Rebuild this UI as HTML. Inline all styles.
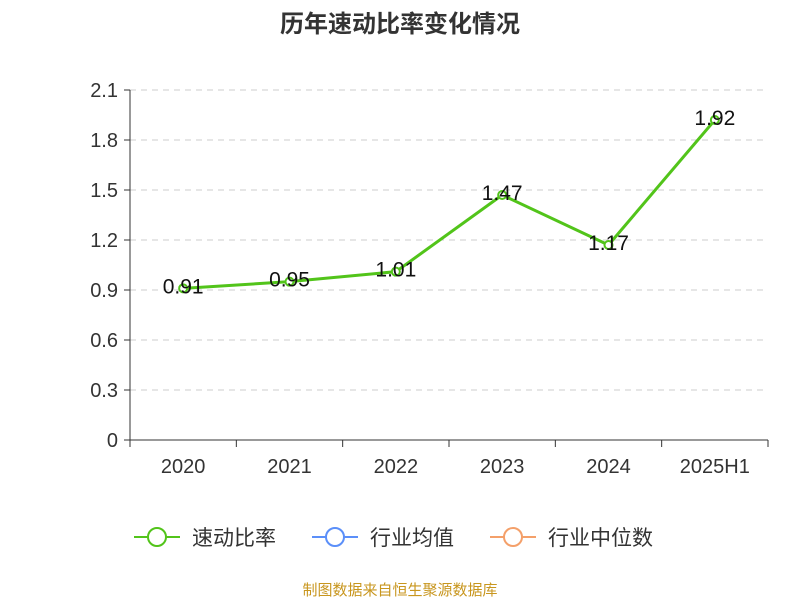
<!DOCTYPE html>
<html><head><meta charset="utf-8"><style>
body{margin:0;background:#fff;}
svg text{font-family:"Liberation Sans","Noto Sans CJK SC",sans-serif;}
</style></head><body>
<svg width="800" height="600" xmlns="http://www.w3.org/2000/svg">
<text x="400" y="32" text-anchor="middle" font-size="24" font-weight="bold" fill="#333">历年速动比率变化情况</text>
<g id="grid"></g><g id="axes"></g><g id="series"></g>
<g>
<g><line x1="134" y1="537" x2="180" y2="537" stroke="#52c41a" stroke-width="2"/><circle cx="157" cy="537" r="9" fill="#fff" stroke="#52c41a" stroke-width="2"/><text x="192" y="545" font-size="21" fill="#333">速动比率</text></g>
<g><line x1="312" y1="537" x2="358" y2="537" stroke="#5b8ff9" stroke-width="2"/><circle cx="335" cy="537" r="9" fill="#fff" stroke="#5b8ff9" stroke-width="2"/><text x="370" y="545" font-size="21" fill="#333">行业均值</text></g>
<g><line x1="490" y1="537" x2="536" y2="537" stroke="#f4a06a" stroke-width="2"/><circle cx="513" cy="537" r="9" fill="#fff" stroke="#f4a06a" stroke-width="2"/><text x="548" y="545" font-size="21" fill="#333">行业中位数</text></g>
</g>
<text x="400" y="595" text-anchor="middle" font-size="15" fill="#c8961e">制图数据来自恒生聚源数据库</text>
</svg>
<script>
const categories=["2020","2021","2022","2023","2024","2025H1"];
const values=[0.91,0.95,1.01,1.47,1.17,1.92];
const yTicks=[0,0.3,0.6,0.9,1.2,1.5,1.8,2.1];
const ns="http://www.w3.org/2000/svg";
const L=130,R=768,T=90,B=440,yMax=2.1;
const bw=(R-L)/categories.length;
const xs=i=>L+bw*(i+0.5);
const ys=v=>B-(v/yMax)*(B-T);
function mk(tag,attrs,parent,txt){const e=document.createElementNS(ns,tag);for(const k in attrs)e.setAttribute(k,attrs[k]);if(txt!==undefined)e.textContent=txt;document.getElementById(parent).appendChild(e);return e;}
yTicks.forEach(t=>{
 const y=ys(t);
 if(t>0){const g=mk('line',{x1:L,x2:R,y1:y,y2:y,stroke:'#ccc','stroke-dasharray':'6,5'},'grid');
 
 }
 const tk=mk('line',{x1:L-6,x2:L,y1:y,y2:y,stroke:'#333'},'axes');
 
 
 const lb=mk('text',{x:L-12,y:y+7,'text-anchor':'end','font-size':20,fill:'#333'},'axes',String(t));
 
 
});
const ya=mk('line',{x1:L,x2:L,y1:T,y2:B,stroke:'#333'},'axes');


const xa=mk('line',{x1:L,x2:R,y1:B,y2:B,stroke:'#333'},'axes');


for(let i=0;i<=categories.length;i++){const x=L+bw*i;const t=mk('line',{x1:x,x2:x,y1:B,y2:B+7,stroke:'#333'},'axes');
 
 }
categories.forEach((c,i)=>{const t=mk('text',{x:xs(i),y:B+33,'text-anchor':'middle','font-size':20,fill:'#333'},'axes',c);
 
 });
const pl=mk('polyline',{points:values.map((v,i)=>xs(i)+','+ys(v)).join(' '),fill:'none',stroke:'#52c41a','stroke-width':3},'series');


values.forEach((v,i)=>{
 const c=mk('circle',{cx:xs(i),cy:ys(v),r:4,fill:'#fff',stroke:'#52c41a','stroke-width':2},'series');
 
 
 const t=mk('text',{x:xs(i),y:ys(v)+5,'text-anchor':'middle','font-size':21,fill:'#111'},'series',v.toFixed(2));
 
 
});
</script>
</body></html>
